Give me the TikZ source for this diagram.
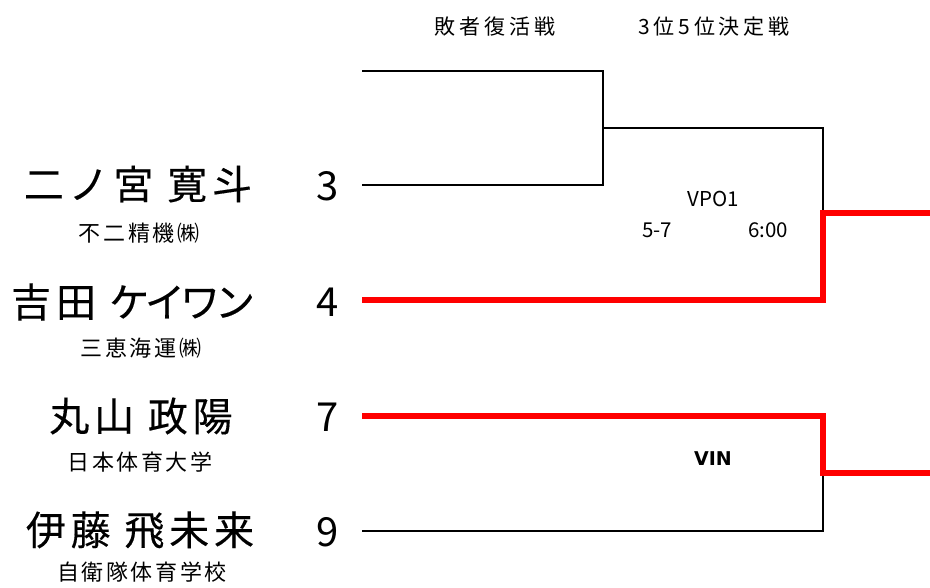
\documentclass[tikz,border=0pt]{standalone}
\usepackage{fontspec}
\setmainfont{Noto Sans CJK JP}
\newfontfamily\cjkfont{Noto Sans CJK JP}[LetterSpace=18]
\newfontfamily\namefont{Noto Sans CJK JP}[LetterSpace=12, FakeBold=0.3]
\newfontfamily\afffont{Noto Sans CJK JP}[LetterSpace=12]
\newfontfamily\kanafont{Noto Sans CJK JP}[RawFeature=+palt, FakeBold=0.3]
\newfontfamily\vinfont{DejaVu Sans}
\begin{document}
\begin{tikzpicture}[x=1pt,y=-1pt,
  pname/.style={font=\namefont\fontsize{40}{42}\selectfont, inner sep=0pt},
  paff/.style={font=\afffont\fontsize{22}{24}\selectfont, inner sep=0pt},
  pseed/.style={font=\fontsize{40}{42}\selectfont, inner sep=0pt},
  phead/.style={font=\cjkfont\fontsize{21}{24}\selectfont, inner sep=0pt},
  pinfo/.style={font=\fontsize{20.5}{23}\selectfont, inner sep=0pt},
  blackline/.style={line width=1.4pt, line join=miter},
  winline/.style={line width=5.5pt, red, line join=miter}]
\useasboundingbox[fill=white] (0,0) rectangle (930,588);

% headers
\node[phead] (h1) at (495,27) {敗者復活戦};
\node[phead] (h2) at (714,27) {3位5位決定戦};

% players
\node[pname] (n1) at (138,184) {二ノ宮 寛斗};
\node[paff]  (a1) at (139,233) {不二精機㈱};
\node[pname] (n2) at (132,302) {吉田 {\kanafont\fontsize{40}{42}\selectfont ケイワン}};
\node[paff]  (a2) at (141,348) {三恵海運㈱};
\node[pname] (n3) at (141,416) {丸山 政陽};
\node[paff]  (a3) at (140,462) {日本体育大学};
\node[pname] (n4) at (140,530) {伊藤 飛未来};
\node[paff]  (a4) at (142,572) {自衛隊体育学校};

\node[pseed] (s1) at (328,186) {3};
\node[pseed] (s2) at (328,302) {4};
\node[pseed] (s3) at (328,417) {7};
\node[pseed] (s4) at (328,532) {9};

% match info
\node[pinfo] (m1) at (713,199) {VPO1};
\node[pinfo] (m1a) at (657,230) {5-7};
\node[pinfo] (m1b) at (768,230) {6:00};
\node[font=\vinfont\bfseries\fontsize{19}{22}\selectfont, inner sep=0pt] (m2) at (713,459) {VIN};

% coordinates
\coordinate (t0) at (362,71);
\coordinate (t1) at (603,71);
\coordinate (b0) at (362,185);
\coordinate (b1) at (603,185);
\coordinate (j1) at (603,128);
\coordinate (j2) at (823,128);
\coordinate (k1) at (823,213);
\coordinate (e1) at (930,213);
\coordinate (r0) at (362,300);
\coordinate (r1) at (823,300);
\coordinate (q0) at (362,416);
\coordinate (q1) at (823,416);
\coordinate (k2) at (823,473);
\coordinate (e2) at (930,473);
\coordinate (p0) at (362,531);
\coordinate (p1) at (823,531);

% black lines
\draw[blackline] (t0) -- (t1) -- (b1) -- (b0);
\draw[blackline] (j1) -- (j2) -- (k1);
\draw[blackline] (p0) -- (p1) -- (k2);

% red winner lines
\draw[winline] (r0) -- (r1) -- (k1) -- (e1);
\draw[winline] (q0) -- (q1) -- (k2) -- (e2);
\end{tikzpicture}
\end{document}
